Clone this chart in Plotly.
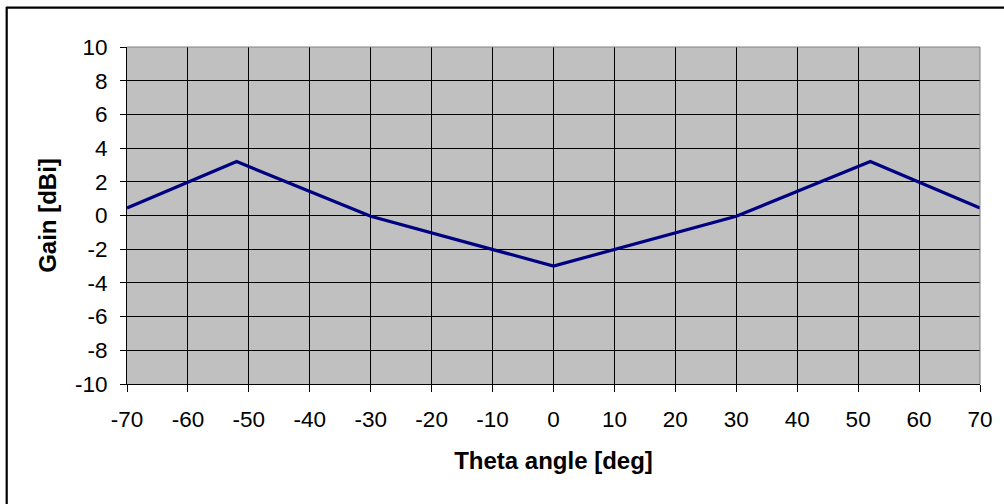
import plotly.graph_objects as go

theta = [-70, -52, -30, 0, 30, 52, 70]
gain = [0.45, 3.2, -0.05, -3.0, -0.05, 3.2, 0.45]

x_ticks = list(range(-70, 71, 10))
y_ticks = list(range(-10, 11, 2))

W, H = 1004, 504
L, R, T, B = 127, 24, 47, 120
pw = W - L - R
ph = H - T - B

fig = go.Figure()
fig.add_trace(go.Scatter(x=theta, y=gain, mode="lines",
                         line=dict(color="#000080", width=3.2), showlegend=False))

tick_font = dict(family="Liberation Sans, Arial, sans-serif", size=22.5, color="black")
title_font = dict(family="Liberation Sans, Arial, sans-serif", size=24, color="black")

fig.update_layout(
    width=W, height=H,
    margin=dict(l=L, r=R, t=T, b=B, pad=0),
    paper_bgcolor="white",
    plot_bgcolor="#C0C0C0",
    font=tick_font,
    xaxis=dict(range=[-70, 70], tickvals=x_ticks, ticktext=[str(v) for v in x_ticks],
               tickfont=tick_font,
               showgrid=True, gridcolor="black", gridwidth=1,
               showline=True, linecolor="black", linewidth=1, mirror=False,
               ticks="outside", ticklen=7, tickcolor="black", zeroline=False,
               ticklabelstandoff=8,
               title=dict(text="<b>Theta angle [deg]</b>", font=title_font, standoff=21),
               fixedrange=True),
    yaxis=dict(range=[-10, 10], tickvals=y_ticks, ticktext=[str(v) for v in y_ticks],
               tickfont=tick_font,
               showgrid=True, gridcolor="black", gridwidth=1,
               showline=True, linecolor="black", linewidth=1,
               ticks="outside", ticklen=6, tickcolor="black", zeroline=False,
               ticklabelstandoff=8,
               title=dict(text="<b>Gain [dBi]</b>", font=title_font, standoff=11),
               fixedrange=True),
    shapes=[
        dict(type="line", xref="paper", yref="paper", x0=0, x1=1, y0=1, y1=1,
             line=dict(color="#808080", width=1)),
        dict(type="line", xref="paper", yref="paper", x0=1, x1=1, y0=0, y1=1,
             line=dict(color="#808080", width=1)),
        dict(type="line", xref="paper", yref="paper",
             x0=(6.7 - L) / pw, x1=(W + 10 - L) / pw,
             y0=(H - B - 7.7) / ph, y1=(H - B - 7.7) / ph,
             line=dict(color="black", width=2.2)),
        dict(type="line", xref="paper", yref="paper",
             x0=(6.7 - L) / pw, x1=(6.7 - L) / pw,
             y0=(H - B - 6.7) / ph, y1=(H - B - H - 10) / ph,
             line=dict(color="black", width=2.2)),
    ],
)

fig.write_html("out.html", config={"displayModeBar": False},
               post_script="document.body.style.margin='0px';")
